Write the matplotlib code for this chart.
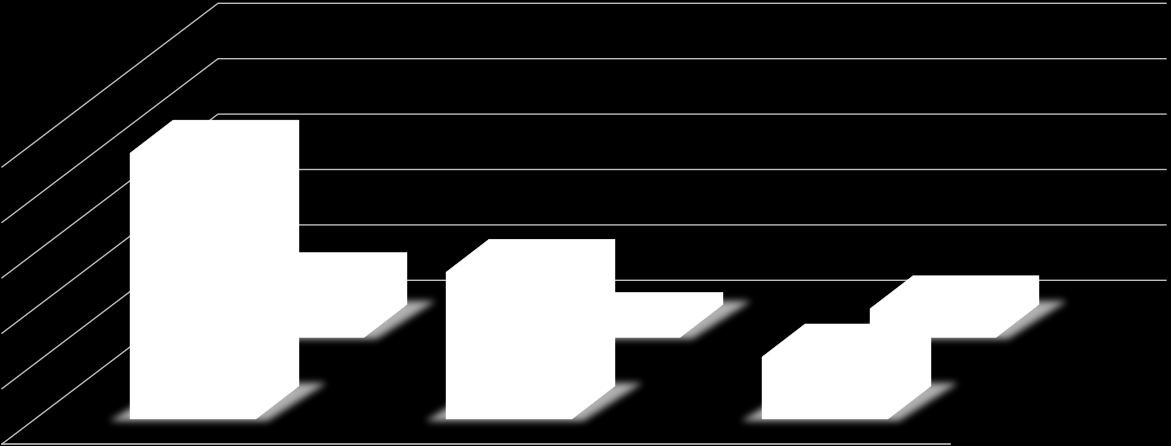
import numpy as np
import matplotlib
matplotlib.use("Agg")
import matplotlib.pyplot as plt
from matplotlib.patches import Polygon
from matplotlib.path import Path

categories = ["A", "B", "C"]
series_front = [4.8, 2.65, 1.12]
series_back = [0.94, 0.22, 0.52]
grid_values = [0, 1, 2, 3, 4, 5]

W, H = 1171, 446
PX_X = 316.0     # pixels per category
PX_Y = 55.4      # pixels per value unit
X0, Y0 = 2.0, 444.0
WALL = (216 / PX_X, 163.7 / PX_Y)
ROW = (108 / PX_X, 81.5 / PX_Y)
LEAD = (33 / PX_X, 25 / PX_Y)
BAR_D = (43 / PX_X, 33 / PX_Y)
GAP = 95 / PX_X
BAR_W = 126 / PX_X
LINE = "#bdbdbd"

fig = plt.figure(figsize=(W / 100, H / 100), dpi=100, facecolor="black")
ax = fig.add_axes([0, 0, 1, 1], facecolor="black")
ax.set_xlim(-X0 / PX_X, (W - X0) / PX_X)
ax.set_ylim(-(H - Y0) / PX_Y, Y0 / PX_Y)
ax.axis("off")

# walls
for v in grid_values:
    ax.plot([0, WALL[0], WALL[0] + len(categories)], [v, v + WALL[1], v + WALL[1]],
            color=LINE, lw=1, zorder=1, solid_joinstyle="miter")
ax.plot([0, len(categories)], [0, 0], color=LINE, lw=1.2, zorder=1)

rows = [series_front, series_back]


def base(cat, row):
    return cat + GAP + LEAD[0] + row * ROW[0], LEAD[1] + row * ROW[1]


# blurred floor shadows
xs = np.linspace(*ax.get_xlim(), W)
ys = np.linspace(*ax.get_ylim(), H)
gx, gy = np.meshgrid(xs, ys)
pts = np.column_stack([gx.ravel(), gy.ravel()])
mask = np.zeros(gx.shape)
ex_l, ex_r, ey = 20 / PX_X, 28 / PX_X, 2 / PX_Y
for row, vals in enumerate(rows):
    for cat, _ in enumerate(vals):
        x, y = base(cat, row)
        poly = [(x - ex_l, y - ey), (x + BAR_W + 12 / PX_X, y - ey),
                (x + BAR_W + BAR_D[0] + ex_r, y + BAR_D[1] + 3 / PX_Y),
                (x + BAR_D[0], y + BAR_D[1] + 3 / PX_Y)]
        mask = np.maximum(mask, Path(poly).contains_points(pts).reshape(gx.shape).astype(float))
t = np.arange(-12, 13)
kernel = np.exp(-t ** 2 / (2 * 3.6 ** 2))
kernel /= kernel.sum()
blur = np.apply_along_axis(lambda a: np.convolve(a, kernel, mode="same"), 0, mask)
blur = np.apply_along_axis(lambda a: np.convolve(a, kernel, mode="same"), 1, blur)
rgba = np.ones(gx.shape + (4,))
rgba[..., 3] = np.clip(blur * 0.7, 0, 1)
ax.imshow(rgba, extent=[*ax.get_xlim(), *ax.get_ylim()], origin="lower",
          aspect="auto", zorder=2, interpolation="bilinear")
ax.set_xlim(-X0 / PX_X, (W - X0) / PX_X)
ax.set_ylim(-(H - Y0) / PX_Y, Y0 / PX_Y)

# bars: back row first
for row in (1, 0):
    for cat, v in enumerate(rows[row]):
        x, y = base(cat, row)
        outline = [(x, y), (x + BAR_W, y), (x + BAR_W + BAR_D[0], y + BAR_D[1]),
                   (x + BAR_W + BAR_D[0], y + BAR_D[1] + v),
                   (x + BAR_D[0], y + BAR_D[1] + v), (x, y + v)]
        ax.add_patch(Polygon(outline, closed=True, facecolor="white",
                             edgecolor="white", lw=0.3, zorder=3 + (1 - row)))

fig.savefig("out.png", dpi=100, facecolor="black")
